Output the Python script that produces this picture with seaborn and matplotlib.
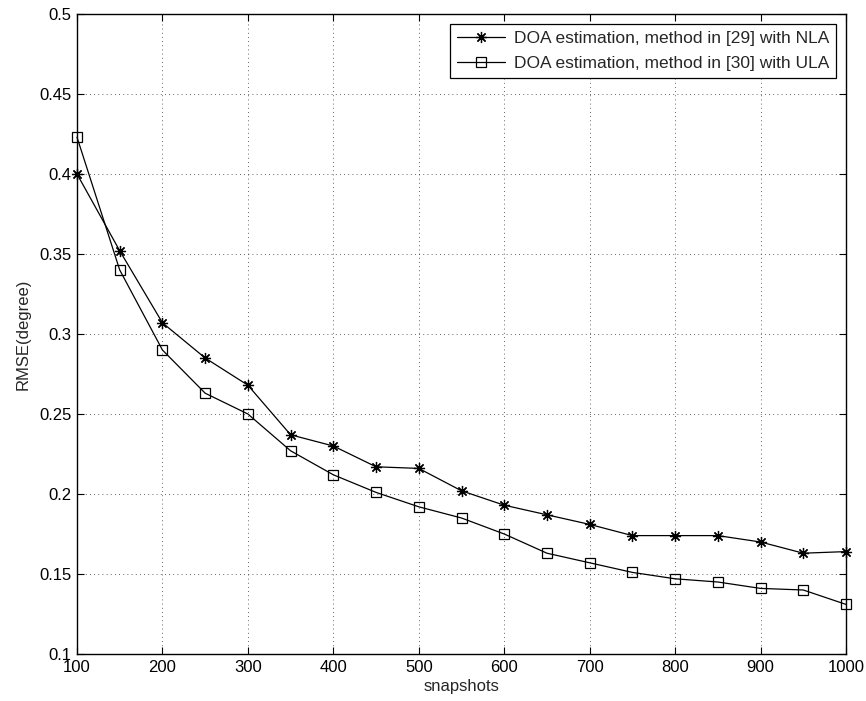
import matplotlib
matplotlib.use("Agg")
import matplotlib.pyplot as plt
import seaborn as sns
import numpy as np

snapshots = [100, 150, 200, 250, 300, 350, 400, 450, 500, 550,
             600, 650, 700, 750, 800, 850, 900, 950, 1000]
rmse_nla = [0.400, 0.352, 0.307, 0.285, 0.268, 0.237, 0.230, 0.217, 0.216, 0.202,
            0.193, 0.187, 0.181, 0.174, 0.174, 0.174, 0.170, 0.163, 0.164]
rmse_ula = [0.423, 0.340, 0.290, 0.263, 0.250, 0.227, 0.212, 0.201, 0.192, 0.185,
            0.175, 0.163, 0.157, 0.151, 0.147, 0.145, 0.141, 0.140, 0.131]
label_nla = "DOA estimation, method in [29] with NLA"
label_ula = "DOA estimation, method in [30] with ULA"
xticks = [100, 200, 300, 400, 500, 600, 700, 800, 900, 1000]
yticks = [0.1, 0.15, 0.2, 0.25, 0.3, 0.35, 0.4, 0.45, 0.5]
ytick_labels = ["0.1", "0.15", "0.2", "0.25", "0.3", "0.35", "0.4", "0.45", "0.5"]

sns.set_style("ticks")
plt.rcParams['font.family'] = ['Liberation Sans', 'DejaVu Sans']

fig = plt.figure(figsize=(8.66, 7.01), dpi=100)
ax = fig.add_axes([77/866, 1 - 654/701, (846 - 77)/866, (654 - 14)/701])

sns.lineplot(x=snapshots, y=rmse_nla, ax=ax, color='black', linewidth=0.9,
             marker=(8, 2, 0), markersize=8, markeredgewidth=0.9,
             markeredgecolor='black', label=label_nla, clip_on=False)
sns.lineplot(x=snapshots, y=rmse_ula, ax=ax, color='black', linewidth=0.9,
             marker='s', markersize=6.5, markerfacecolor='none',
             markeredgewidth=0.9, markeredgecolor='black', label=label_ula,
             clip_on=False)

ax.set_xlim(100, 1000)
ax.set_ylim(0.1, 0.5)
ax.set_xticks(xticks)
ax.set_xticklabels([str(t) for t in xticks])
ax.set_yticks(yticks)
ax.set_yticklabels(ytick_labels)
ax.tick_params(direction='in', top=True, right=True, length=5, width=0.8,
               labelsize=12, colors='black')
ax.tick_params(axis='y', pad=4)
ax.tick_params(axis='x', pad=4)
for s in ax.spines.values():
    s.set_visible(True)
    s.set_color('black')
    s.set_linewidth(1.0)
ax.grid(True, linestyle=(0, (1, 4)), color='black', linewidth=0.6, alpha=0.8)
ax.set_axisbelow(True)

ax.set_xlabel("snapshots", fontsize=12, labelpad=3)
ax.set_ylabel("RMSE(degree)", fontsize=12, labelpad=6)

leg = ax.legend(loc='upper right', fontsize=12.5, frameon=True, fancybox=False,
                edgecolor='black', framealpha=1, handlelength=2.8,
                borderaxespad=0.55, labelspacing=0.6, borderpad=0.4,
                handletextpad=0.5)
leg.get_frame().set_linewidth(0.9)

fig.savefig("out.png", dpi=100)
